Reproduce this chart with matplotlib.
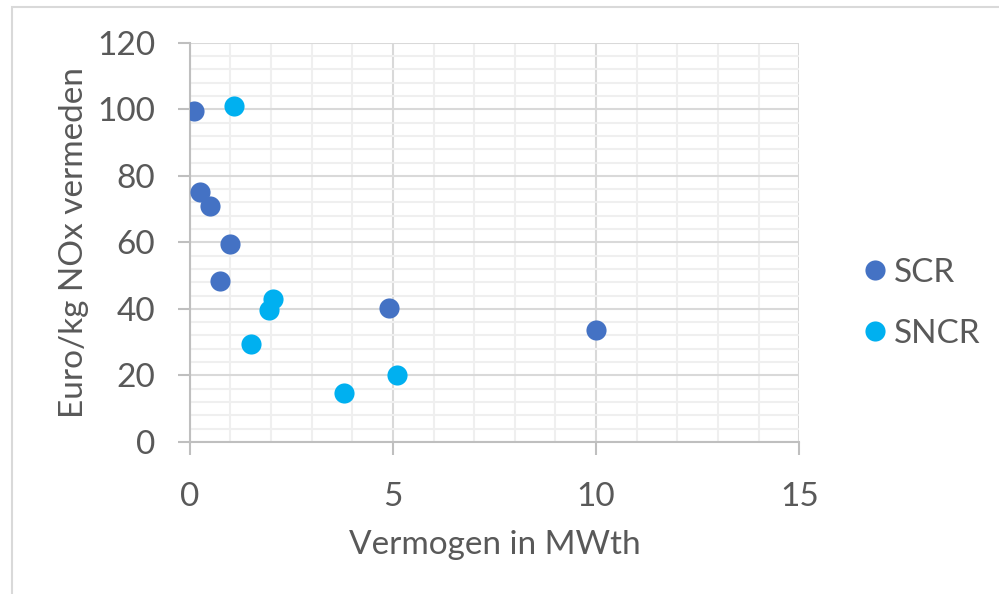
import matplotlib as mpl
mpl.use('Agg')
import matplotlib.pyplot as plt
import numpy as np
from matplotlib.patches import Rectangle

mpl.rcParams['font.family'] = ['Lato', 'DejaVu Sans']

# data
scr_x = [0.1, 0.25, 0.5, 1.0, 0.75, 4.9, 10.0]
scr_y = [99.5, 75.2, 71.0, 59.5, 48.4, 40.2, 33.6]
sncr_x = [1.08, 2.05, 1.95, 1.5, 3.8, 5.1]
sncr_y = [101.0, 43.0, 39.6, 29.5, 14.6, 20.2]

text_col = '#595959'
grid_major = '#d9d9d9'
grid_minor = '#efefef'
fs = 24

fig = plt.figure(figsize=(9.99, 5.94), dpi=100)
ax = fig.add_axes([0.190, 0.256, 0.610, 0.672])

ax.plot(scr_x, scr_y, linestyle='None', marker='o', markersize=14.5,
        color='#4472C4', markeredgewidth=0, label='SCR', zorder=3)
ax.plot(sncr_x, sncr_y, linestyle='None', marker='o', markersize=14.5,
        color='#00B0F0', markeredgewidth=0, label='SNCR', zorder=3)

ax.set_xlim(0, 15)
ax.set_ylim(0, 120)
ax.set_xticks([0, 5, 10, 15])
ax.set_yticks(np.arange(0, 121, 20))
ax.set_xticks(np.arange(0, 16, 1), minor=True)
ax.set_yticks(np.arange(0, 121, 4), minor=True)

ax.grid(which='minor', color=grid_minor, linewidth=1.5, zorder=0)
ax.grid(which='major', color=grid_major, linewidth=1.5, zorder=1)
ax.set_axisbelow(True)

for s in ['top', 'right']:
    ax.spines[s].set_visible(False)
for s in ['left', 'bottom']:
    ax.spines[s].set_color('#bfbfbf')
    ax.spines[s].set_linewidth(1.5)

ax.tick_params(which='major', direction='out', length=9, width=1.5,
               color='#bfbfbf', labelsize=fs, labelcolor=text_col)
ax.tick_params(which='minor', length=0)
ax.tick_params(axis='x', pad=20)
ax.tick_params(axis='y', pad=16)

ax.set_xlabel('Vermogen in MWth', fontsize=fs, color=text_col, labelpad=13)
ax.set_ylabel('Euro/kg NOx vermeden', fontsize=fs, color=text_col, labelpad=6)

ax.legend(loc='center left', bbox_to_anchor=(1.0755, 0.347), frameon=False,
          fontsize=fs, labelcolor=text_col, handletextpad=0.05,
          labelspacing=0.92, handlelength=1.0, borderaxespad=0)

# chart area border
fig.patches.append(Rectangle((12 / 999, -0.1), 1.2, 1.1 - 6.5 / 594,
                             transform=fig.transFigure, fill=False,
                             edgecolor='#d9d9d9', linewidth=1.5))

fig.savefig('out.png', dpi=100)
